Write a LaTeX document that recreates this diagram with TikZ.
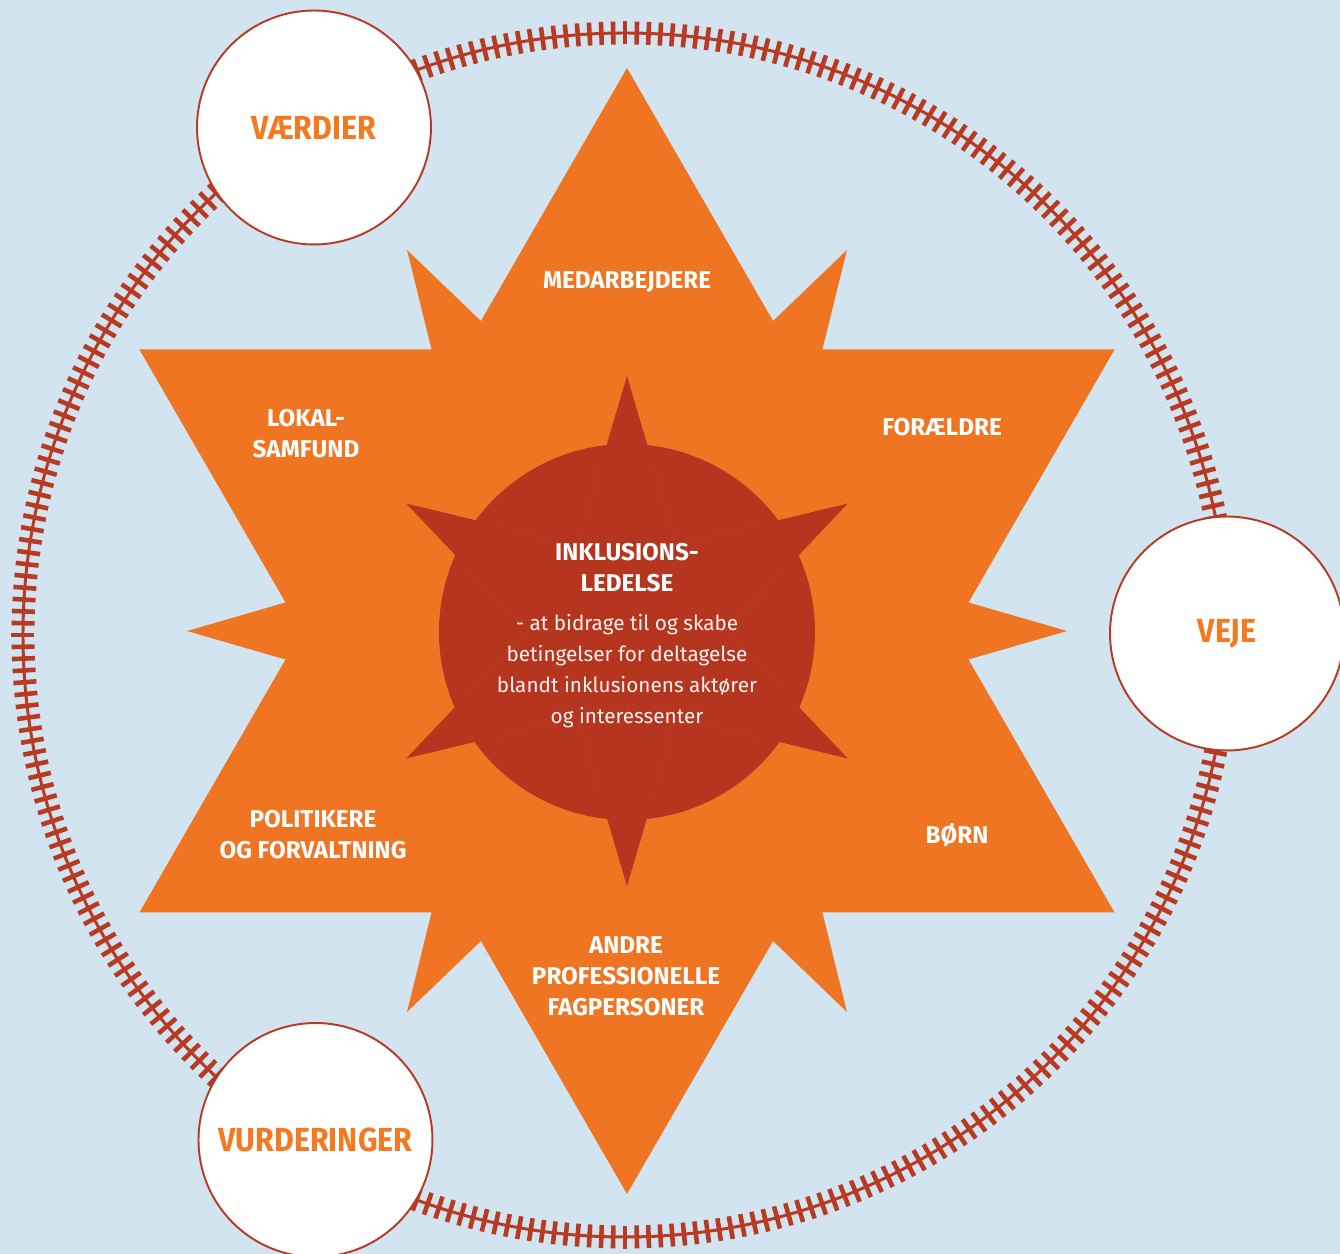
\documentclass[tikz,border=0pt]{standalone}
\usepackage{fontspec}
\setmainfont{Fira Sans}
\newfontfamily\condfont{Fira Sans}
\newfontfamily\stopfont[FakeStretch=0.91]{Fira Sans}
\newfontfamily\bodyfont{Fira Sans}
\usetikzlibrary{positioning}
\definecolor{bgblue}{RGB}{209,228,239}
\definecolor{starorange}{RGB}{240,117,34}
\definecolor{corered}{RGB}{181,53,30}
\definecolor{seamred}{RGB}{187,59,34}
\definecolor{railred}{RGB}{184,58,34}
\definecolor{stoptext}{RGB}{244,121,32}
\tikzset{
  lbl/.style={text=white, align=center, inner sep=0pt,
              font=\condfont\bfseries\fontsize{13.8}{17.6}\selectfont},
  stop/.style={circle, draw=railred, line width=1.1pt, fill=white,
               minimum size=4.68cm, inner sep=0pt, text=stoptext,
               font=\stopfont\bfseries\fontsize{19}{22}\selectfont},
  railtick/.style={railred, line width=2.6pt}
}
\begin{document}
\begin{tikzpicture}[x=0.02cm, y=0.02cm]
\fill[bgblue] (-627,-623) rectangle (713,631);
\useasboundingbox (-627,-623) rectangle (713,631);
%
% track
\begin{scope}[shift={(-2,-4)}]
\draw[railred, line width=1.7pt] (0,0) circle (602);
\foreach \i in {1,...,320}
  \draw[railtick, rotate=\i*1.125] (590.5,0) -- (613.5,0);
\end{scope}
%
% star
\fill[starorange] (90:563) -- (210:563) -- (330:563) -- cycle;
\fill[starorange] (270:563) -- (30:563) -- (150:563) -- cycle;
\foreach \a in {0,60,...,300}
  \fill[starorange, rotate=\a] (440,0) -- (250,55) -- (250,-55) -- cycle;
%
% core
\fill[corered] (0,-1) circle (188);
\foreach \a in {30,90,...,330} {
  \fill[corered, rotate=\a] (255,0) -- (150,31) -- (150,-31) -- cycle;
  \draw[seamred, line width=0.4pt, rotate=\a] (168,26) -- (85,49);
  \draw[seamred, line width=0.4pt, rotate=\a] (168,-26) -- (85,-49);
}
%
\node[stop] (vaerdier) at (-313,503.5) {VÆRDIER};
\node[stop] (veje) at (600,-2.5) {VEJE};
\node[stop] (vurd) at (-311.5,-509) {VURDERINGER};
%
\node[lbl] (medarb) at (0,349) {MEDARBEJDERE};
\node[lbl] (lokal) at (-321,197) {LOKAL-\\SAMFUND};
\node[lbl] (foraeldre) at (315,204) {FORÆLDRE};
\node[lbl] (politik) at (-314,-204) {POLITIKERE\\OG FORVALTNING};
\node[lbl] (boern) at (330,-204) {BØRN};
\node[lbl] (andre) at (-1,-345) {ANDRE\\PROFESSIONELLE\\FAGPERSONER};
%
\node[lbl] (title) at (0,63) {INKLUSIONS-\\LEDELSE};
\node[text=white!94!corered, align=center, inner sep=0pt,
      font=\bodyfont\fontsize{11.8}{17.6}\selectfont] (desc) at (0,-40)
  {- at bidrage til og skabe\\betingelser for deltagelse\\blandt inklusionens aktører\\og interessenter};
\end{tikzpicture}
\end{document}
